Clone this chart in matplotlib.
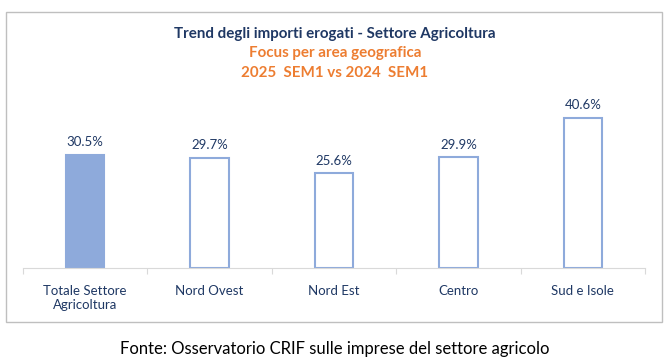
import matplotlib
matplotlib.use("Agg")
import matplotlib.pyplot as plt
from matplotlib.patches import Rectangle

categories = ["Totale Settore\nAgricoltura", "Nord Ovest", "Nord Est", "Centro", "Sud e Isole"]
values = [30.5, 29.7, 25.6, 29.9, 40.6]
value_labels = ["30.5%", "29.7%", "25.6%", "29.9%", "40.6%"]

navy = "#1f3864"
orange = "#ed7d31"
blue = "#8eaadb"

plt.rcParams['font.family'] = ['Lato', 'DejaVu Sans']

fig = plt.figure(figsize=(6.7, 3.6), dpi=100)

# chart frame
fig.patches.append(Rectangle((6 / 670, 38 / 360), 656 / 670, 310 / 360,
                             transform=fig.transFigure, fill=False,
                             edgecolor="#bfbfbf", linewidth=1))

ax = fig.add_axes([23 / 670, 92 / 360, 622 / 670, 166.5 / 360])
x = range(len(categories))
for i, v in enumerate(values):
    if i == 0:
        ax.bar(i, v, width=0.31, color=blue, edgecolor=blue, linewidth=1.5)
    else:
        ax.bar(i, v, width=0.31, color="white", edgecolor=blue, linewidth=1.5)
    ax.text(i, v + 1.8, value_labels[i], ha="center", va="bottom",
            color=navy, fontsize=9.5)

ax.set_xlim(-0.5, len(categories) - 0.5)
ax.set_ylim(0, 45)
for s in ["top", "right", "left"]:
    ax.spines[s].set_visible(False)
ax.spines["bottom"].set_color("#d9d9d9")
ax.set_yticks([])
ax.set_xticks([i - 0.5 for i in range(len(categories) + 1)], minor=False)
ax.set_xticklabels([])
ax.tick_params(axis="x", which="major", length=4, color="#d9d9d9", direction="out")
ax.set_xticks(list(x), minor=True)
ax.set_xticklabels(categories, minor=True, color=navy, fontsize=9.5, linespacing=1.25)
ax.tick_params(axis="x", which="minor", length=0, pad=12)

fig.text(0.5, 1 - 34 / 360, "Trend degli importi erogati - Settore Agricoltura",
         ha="center", va="center", color=navy, fontsize=10.9, fontweight="bold")
fig.text(0.5, 1 - 53 / 360, "Focus per area geografica",
         ha="center", va="center", color=orange, fontsize=10.9, fontweight="bold")
fig.text(0.5, 1 - 73 / 360, "2025  SEM1 vs 2024  SEM1",
         ha="center", va="center", color=orange, fontsize=10.9, fontweight="bold")

fig.text(0.5, 1 - 349 / 360, "Fonte: Osservatorio CRIF sulle imprese del settore agricolo",
         ha="center", va="center", color="black", fontsize=12)

fig.savefig("out.png", dpi=100)
